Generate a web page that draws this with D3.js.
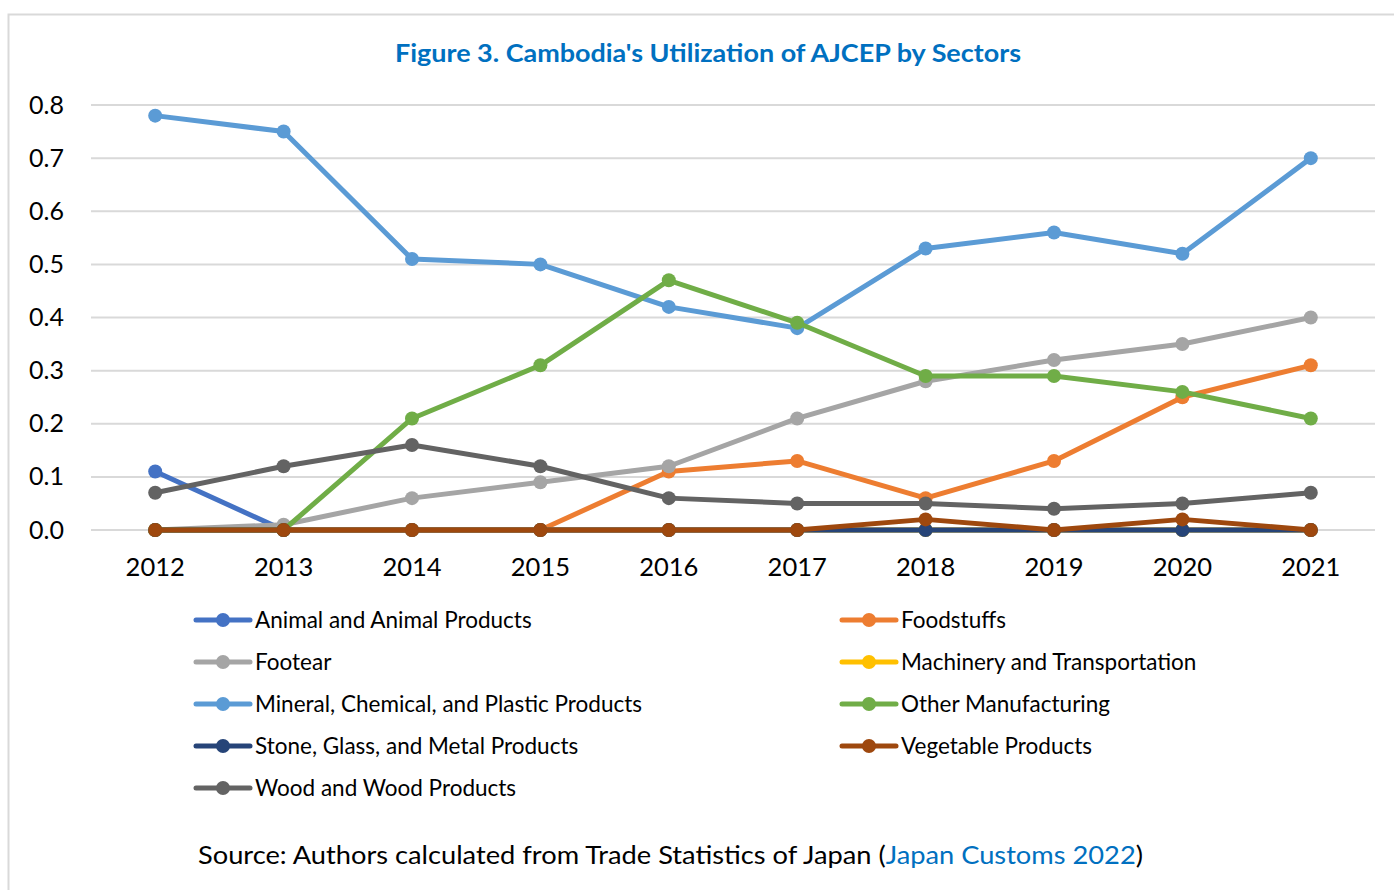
<!DOCTYPE html>
<html><head><meta charset="utf-8">
<script src="https://cdn.jsdelivr.net/npm/d3@7"></script>
<style>body{margin:0;background:#fff;} svg{display:block;font-family:Lato, "Open Sans", sans-serif;}</style>
</head><body>
<svg id="chart" width="1394" height="890"></svg>
<script>
const years = ["2012","2013","2014","2015","2016","2017","2018","2019","2020","2021"];
const yTicks = [0,0.1,0.2,0.3,0.4,0.5,0.6,0.7,0.8];
const seriesNames = ["Animal and Animal Products","Foodstuffs","Footear","Machinery and Transportation","Mineral, Chemical, and Plastic Products","Other Manufacturing","Stone, Glass, and Metal Products","Vegetable Products","Wood and Wood Products"];
const seriesColors = ["#4472C4","#ED7D31","#A5A5A5","#FFC000","#5B9BD5","#70AD47","#264478","#9E480E","#636363"];
const animal     = [0.11,0,0,0,0,0,0,0,0,0];
const foodstuffs = [0,0,0,0,0.11,0.13,0.06,0.13,0.25,0.31];
const footear    = [0,0.01,0.06,0.09,0.12,0.21,0.28,0.32,0.35,0.40];
const machinery  = [0,0,0,0,0,0,0,0,0,0];
const mineral    = [0.78,0.75,0.51,0.50,0.42,0.38,0.53,0.56,0.52,0.70];
const otherManuf = [0,0,0.21,0.31,0.47,0.39,0.29,0.29,0.26,0.21];
const stone      = [0,0,0,0,0,0,0,0,0,0];
const vegetable  = [0,0,0,0,0,0,0.02,0,0.02,0];
const wood       = [0.07,0.12,0.16,0.12,0.06,0.05,0.05,0.04,0.05,0.07];
const seriesValues = [animal,foodstuffs,footear,machinery,mineral,otherManuf,stone,vegetable,wood];
const titleText = "Figure 3. Cambodia's Utilization of AJCEP by Sectors";

const svg = d3.select("#chart");
svg.append("rect").attr("x",8.5).attr("y",14.5).attr("width",1500).attr("height",1000)
  .attr("fill","none").attr("stroke","#d9d9d9").attr("stroke-width",2);

const x = d3.scaleBand().domain(years).range([91,1375]);
const y = d3.scaleLinear().domain([0,0.8]).range([530,105]);

// grid
svg.append("g").selectAll("line").data(yTicks).join("line")
  .attr("x1",91).attr("x2",1375).attr("y1",d=>y(d)).attr("y2",d=>y(d))
  .attr("stroke","#d9d9d9").attr("stroke-width",2);

// y axis labels
const yAxis = d3.axisLeft(y).tickValues(yTicks).tickFormat(d3.format(".1f")).tickSize(0).tickPadding(0);
const gy = svg.append("g").attr("transform","translate(64,0)").call(yAxis);
gy.select(".domain").remove();
gy.selectAll("text").attr("font-size",25).attr("font-family","Lato").attr("fill","#000");

// x axis labels
const xAxis = d3.axisBottom(x).tickSize(0).tickPadding(0);
const gx = svg.append("g").attr("transform","translate(0,558)").call(xAxis);
gx.select(".domain").remove();
gx.selectAll("text").attr("font-size",25.5).attr("font-family","Lato").attr("fill","#000");

// title
svg.append("text").attr("x",708).attr("y",62).attr("text-anchor","middle")
  .attr("font-size",25).attr("font-weight","bold").attr("fill","#0070C0")
  .attr("textLength",626).attr("lengthAdjust","spacingAndGlyphs").text(titleText);

// series
const line = d3.line().x((d,i)=>x(years[i])+x.bandwidth()/2).y(d=>y(d));
seriesValues.forEach((vals,si)=>{
  const g = svg.append("g");
  g.append("path").attr("d",line(vals)).attr("fill","none")
    .attr("stroke",seriesColors[si]).attr("stroke-width",5).attr("stroke-linejoin","round").attr("stroke-linecap","round");
  g.selectAll("circle").data(vals).join("circle")
    .attr("cx",(d,i)=>x(years[i])+x.bandwidth()/2).attr("cy",d=>y(d)).attr("r",7)
    .attr("fill",seriesColors[si]);
});

// legend
const legCol = [196,842], legRow0 = 620, legRowH = 42;
seriesNames.forEach((name,i)=>{
  const cx = legCol[i%2], cy = legRow0 + Math.floor(i/2)*legRowH;
  const g = svg.append("g").attr("transform",`translate(${cx},${cy})`);
  g.append("line").attr("x1",0).attr("x2",54).attr("y1",0).attr("y2",0)
    .attr("stroke",seriesColors[i]).attr("stroke-width",5).attr("stroke-linecap","round");
  g.append("circle").attr("cx",27).attr("cy",0).attr("r",7).attr("fill",seriesColors[i]);
  g.append("text").attr("x",59).attr("y",8).attr("font-size",22.5).attr("fill","#000").text(name);
});

// source
const src = svg.append("text").attr("x",198).attr("y",864).attr("font-size",25).attr("fill","#000")
  .attr("textLength",945).attr("lengthAdjust","spacingAndGlyphs");
src.append("tspan").text("Source: Authors calculated from Trade Statistics of Japan (");
src.append("tspan").attr("fill","#0070C0").text("Japan Customs 2022");
src.append("tspan").text(")");
</script>
</body></html>
